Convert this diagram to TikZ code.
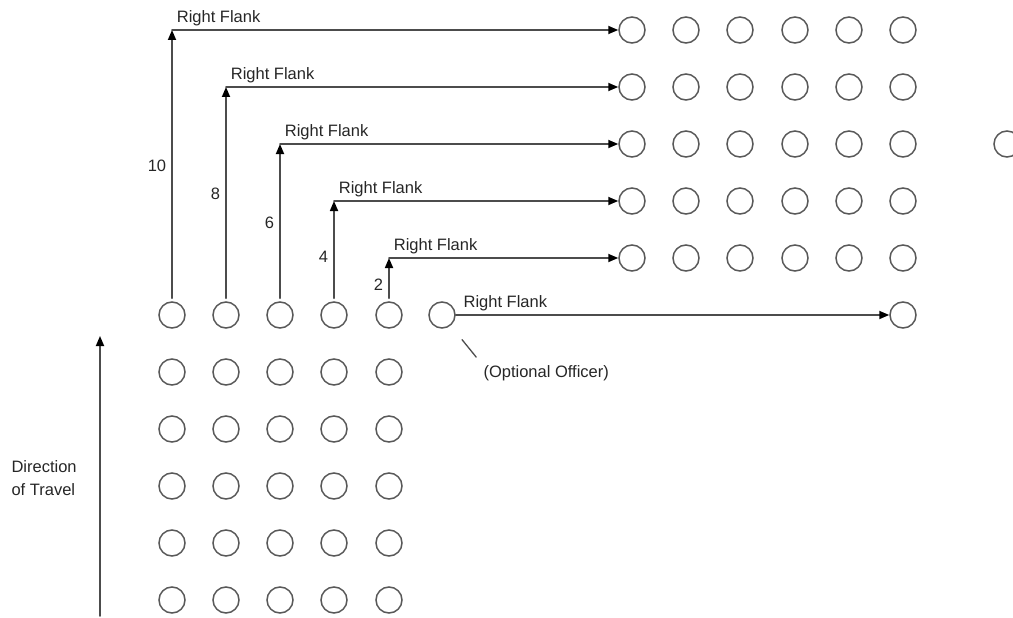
\documentclass[tikz,border=0pt]{standalone}
\usepackage{fontspec}
\setmainfont{Liberation Sans}
\usetikzlibrary{arrows.meta}

\begin{document}
\begin{tikzpicture}[x=1pt,y=-1pt,>={Triangle[length=10pt,width=8pt,color=black]},font=\fontsize{16.5}{19}\selectfont,line cap=round,
  man/.style={circle,draw=black!65,line width=1.5pt,minimum size=26pt,inner sep=0pt},
  flank/.style={draw=black!70,line width=1.7pt},
  turn/.style={above right,inner sep=3pt,xshift=1pt,text=black!85},
  count/.style={left,inner sep=5pt,text=black!85}]
\useasboundingbox (0,0) rectangle (1013,618);
% squad in column, before the turn
\node[man] (l11) at (172,315) {}; \node[man] (l12) at (226,315) {}; \node[man] (l13) at (280,315) {}; \node[man] (l14) at (334,315) {}; \node[man] (l15) at (389,315) {};
\node[man] (l21) at (172,372) {}; \node[man] (l22) at (226,372) {}; \node[man] (l23) at (280,372) {}; \node[man] (l24) at (334,372) {}; \node[man] (l25) at (389,372) {};
\node[man] (l31) at (172,429) {}; \node[man] (l32) at (226,429) {}; \node[man] (l33) at (280,429) {}; \node[man] (l34) at (334,429) {}; \node[man] (l35) at (389,429) {};
\node[man] (l41) at (172,486) {}; \node[man] (l42) at (226,486) {}; \node[man] (l43) at (280,486) {}; \node[man] (l44) at (334,486) {}; \node[man] (l45) at (389,486) {};
\node[man] (l51) at (172,543) {}; \node[man] (l52) at (226,543) {}; \node[man] (l53) at (280,543) {}; \node[man] (l54) at (334,543) {}; \node[man] (l55) at (389,543) {};
\node[man] (l61) at (172,600) {}; \node[man] (l62) at (226,600) {}; \node[man] (l63) at (280,600) {}; \node[man] (l64) at (334,600) {}; \node[man] (l65) at (389,600) {};
\node[man] (off) at (442,315) {};
% squad after the right flank
\node[man] (r11) at (632,30) {}; \node[man] (r12) at (686,30) {}; \node[man] (r13) at (740,30) {}; \node[man] (r14) at (795,30) {}; \node[man] (r15) at (849,30) {}; \node[man] (r16) at (903,30) {};
\node[man] (r21) at (632,87) {}; \node[man] (r22) at (686,87) {}; \node[man] (r23) at (740,87) {}; \node[man] (r24) at (795,87) {}; \node[man] (r25) at (849,87) {}; \node[man] (r26) at (903,87) {};
\node[man] (r31) at (632,144) {}; \node[man] (r32) at (686,144) {}; \node[man] (r33) at (740,144) {}; \node[man] (r34) at (795,144) {}; \node[man] (r35) at (849,144) {}; \node[man] (r36) at (903,144) {};
\node[man] (r41) at (632,201) {}; \node[man] (r42) at (686,201) {}; \node[man] (r43) at (740,201) {}; \node[man] (r44) at (795,201) {}; \node[man] (r45) at (849,201) {}; \node[man] (r46) at (903,201) {};
\node[man] (r51) at (632,258) {}; \node[man] (r52) at (686,258) {}; \node[man] (r53) at (740,258) {}; \node[man] (r54) at (795,258) {}; \node[man] (r55) at (849,258) {}; \node[man] (r56) at (903,258) {};
\node[man] (r66) at (903,315) {};
\node[man] (guide) at (1007,144) {};
% turning points
\coordinate (k1) at (l11 |- r11);
\coordinate (k2) at (l12 |- r21);
\coordinate (k3) at (l13 |- r31);
\coordinate (k4) at (l14 |- r41);
\coordinate (k5) at (l15 |- r51);
\draw[flank,->,shorten <=3pt] (l11.north) -- (k1) node[count,midway] {10};
\draw[flank,->,shorten <=3pt] (l12.north) -- (k2) node[count,midway] {8};
\draw[flank,->,shorten <=3pt] (l13.north) -- (k3) node[count,midway] {6};
\draw[flank,->,shorten <=3pt] (l14.north) -- (k4) node[count,midway,yshift=-6pt] {4};
\draw[flank,->,shorten <=3pt] (l15.north) -- (k5) node[count,midway,yshift=-5pt] {2};
\draw[flank,->] (k1) -- (r11) node[turn,pos=0] {Right Flank};
\draw[flank,->] (k2) -- (r21) node[turn,pos=0] {Right Flank};
\draw[flank,->] (k3) -- (r31) node[turn,pos=0] {Right Flank};
\draw[flank,->] (k4) -- (r41) node[turn,pos=0] {Right Flank};
\draw[flank,->] (k5) -- (r51) node[turn,pos=0] {Right Flank};
\draw[flank,->] (off) -- (r66) node[turn,pos=0,xshift=3pt] {Right Flank};
% officer note
\node[anchor=west,text=black!85] (offnote) at (480,373) {(Optional Officer)};
\draw[flank,line width=1.3pt,shorten <=18pt,shorten >=6pt] (off) -- (offnote.north west);
% direction of travel
\coordinate (tail) at (100,616);
\coordinate (head) at (100,336);
\draw[flank,->] (tail) -- (head);
\node[anchor=west,align=left,text=black!85,font=\fontsize{16.5}{23}\selectfont] (travel) at (8,478) {Direction\\of Travel};
\end{tikzpicture}
\end{document}
